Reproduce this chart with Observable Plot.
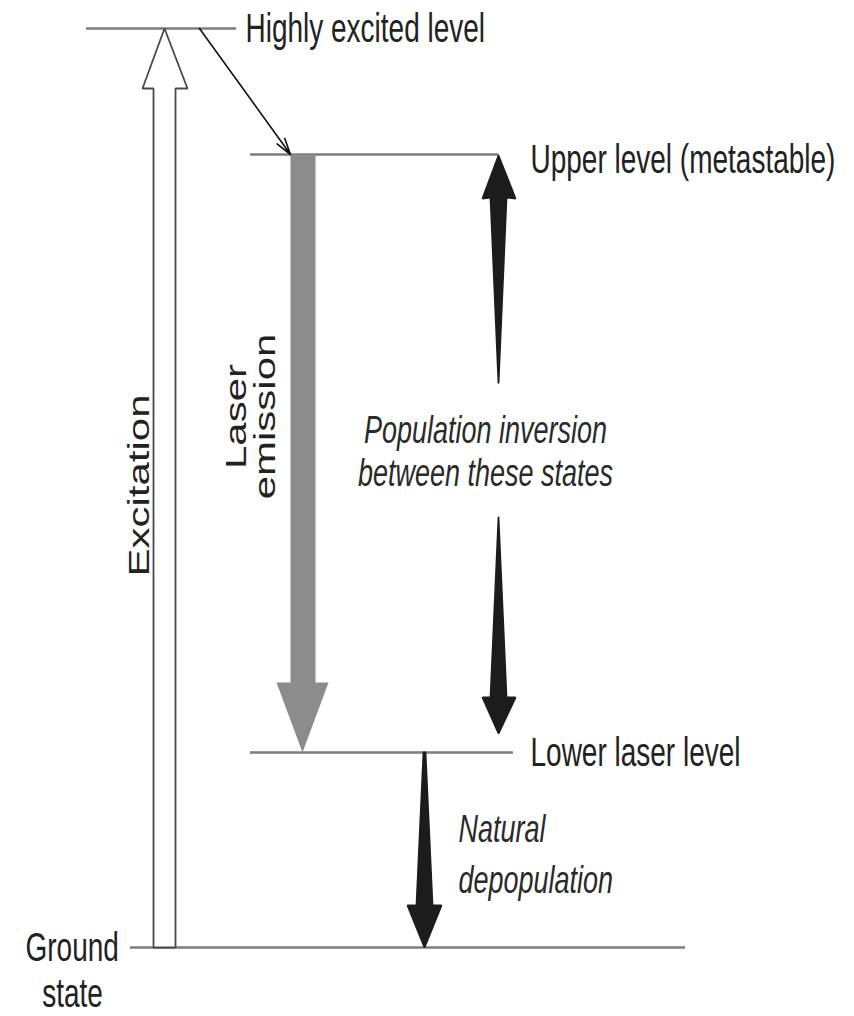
<!DOCTYPE html>
<html>
<head>
<meta charset="utf-8">
<script src="https://cdn.jsdelivr.net/npm/d3@7"></script>
<script src="https://cdn.jsdelivr.net/npm/@observablehq/plot@0.6"></script>
<style>
  html, body { margin: 0; padding: 0; background: #fff; }
</style>
</head>
<body>
<div id="chart"></div>
<script>
// ---- Data: energy levels (energy in arbitrary units above the ground state) ----
const levelNames = ["Ground state", "Lower laser level", "Upper level (metastable)", "Highly excited level"];
const levelEnergies = [0, 195, 793, 919];

// ---- Transitions between levels ----
const transitionNames = ["Excitation", "Relaxation", "Laser emission", "Population inversion", "Natural depopulation"];
const transitionFrom = ["Ground state", "Highly excited level", "Upper level (metastable)", "Upper level (metastable)", "Lower laser level"];
const transitionTo = ["Highly excited level", "Upper level (metastable)", "Lower laser level", "Lower laser level", "Ground state"];

// ---- Label texts ----
const annotationTexts = ["Population inversion", "between these states", "Natural", "depopulation", "Laser", "emission", "Excitation"];

// ---- Layout (code, not data) ----
const E = Object.fromEntries(levelNames.map((n, i) => [n, levelEnergies[i]]));
const levelSpan = {
  "Ground state": [130, 685],
  "Lower laser level": [250, 513],
  "Upper level (metastable)": [250, 498],
  "Highly excited level": [86, 236]
};
const levels = levelNames.map((n, i) => ({name: n, energy: levelEnergies[i], x1: levelSpan[n][0], x2: levelSpan[n][1]}));

const eG = E["Ground state"], eL = E["Lower laser level"], eU = E["Upper level (metastable)"], eH = E["Highly excited level"];

// polygons built from level energies
const shapes = [];
function poly(id, pts) { pts.forEach(([x, y]) => shapes.push({id, x, y})); shapes.push({id, x: pts[0][0], y: pts[0][1]}); }

// Excitation: hollow arrow ground -> highly excited
poly("Excitation", [[153, eG], [153, eH - 60], [142, eH - 60], [164, eH], [187, eH - 60], [175, eH - 60], [175, eG]]);
// Laser emission: grey arrow upper -> lower
poly("Laser emission", [[290, eU], [290, eL + 70], [276, eL + 70], [302, eL], [328, eL + 70], [315, eL + 70], [315, eU]]);
// Population inversion: two tapered arrows
poly("Inversion up", [[498, eU - 1], [515, eU - 44], [506, eU - 43], [498, eU - 229], [490, eU - 43], [482, eU - 44]]);
poly("Inversion down", [[498, eL + 235], [506, eL + 55], [515, eL + 55], [498, eL + 19], [482, eL + 55], [490, eL + 55]]);
// Natural depopulation
poly("Depopulation", [[423, eL], [425, eL], [432, eG + 42], [441, eG + 42], [424, eG], [407, eG + 42], [416, eG + 42]]);

const shapeStyle = {
  "Excitation": {fill: "#ffffff", stroke: "#4a4a4a"},
  "Laser emission": {fill: "#8c8c8c", stroke: "none"},
  "Inversion up": {fill: "#1c1c1c", stroke: "#1c1c1c"},
  "Inversion down": {fill: "#1c1c1c", stroke: "#1c1c1c"},
  "Depopulation": {fill: "#1c1c1c", stroke: "#1c1c1c"}
};

const startLabels = [
  {text: levelNames[3], x: 245, y: eH},
  {text: levelNames[2], x: 530, y: eU - 5},
  {text: levelNames[1], x: 530, y: eL},
  {text: "Ground", x: 25, y: eG}
];
const middleLabels = [
  {text: "state", x: 72, y: eG - 46}
];
const italicMiddle = [
  {text: annotationTexts[0], x: 485, y: eL + 322},
  {text: annotationTexts[1], x: 485, y: eL + 279}
];
const italicStart = [
  {text: annotationTexts[2], x: 458, y: eG + 118},
  {text: annotationTexts[3], x: 458, y: eG + 67}
];
const rotatedLabels = [
  {text: annotationTexts[4], x: 236, y: eL + 336},
  {text: annotationTexts[5], x: 265, y: eL + 336},
  {text: annotationTexts[6], x: 139, y: eG + 462}
];

const font = "Liberation Sans, Arial, Helvetica, sans-serif";
const common = {x: "x", y: "y", text: "text", lineAnchor: "middle"};

const chart = Plot.plot({
  width: 854,
  height: 1016,
  margin: 0,
  x: {domain: [0, 854], range: [0, 854], axis: null},
  y: {domain: [-69, 947], range: [1016, 0], axis: null},
  style: {background: "#ffffff", fontFamily: font},
  marks: [
    Plot.ruleY(levels, {y: "energy", x1: "x1", x2: "x2", stroke: "#7d7d7d", strokeWidth: 2.6}),
    ...Object.keys(shapeStyle).map(id =>
      Plot.line(shapes.filter(d => d.id === id), {x: "x", y: "y", curve: "linear", fill: shapeStyle[id].fill, stroke: shapeStyle[id].stroke, strokeWidth: 1.8, strokeLinejoin: "miter"})
    ),
    Plot.arrow([{x1: 199, y1: eH, x2: 290, y2: eU}], {x1: "x1", y1: "y1", x2: "x2", y2: "y2", stroke: "#111", strokeWidth: 1.6, headLength: 16, headAngle: 32}),
    Plot.text(startLabels, {...common, textAnchor: "start", fontSize: 28, fill: "#222"}),
    Plot.text(middleLabels, {...common, textAnchor: "middle", fontSize: 28, fill: "#222"}),
    Plot.text(italicMiddle, {...common, textAnchor: "middle", fontSize: 27, fontStyle: "italic", fill: "#2a2a2a"}),
    Plot.text(italicStart, {...common, textAnchor: "start", fontSize: 27, fontStyle: "italic", fill: "#2a2a2a"}),
    Plot.text(rotatedLabels, {...common, textAnchor: "middle", rotate: -90, fontSize: 30, fill: "#222"})
  ]
});

// The source figure's lettering is tall and narrow: stretch glyphs along the vertical axis.
chart.querySelectorAll("text").forEach(t => {
  const tr = t.getAttribute("transform") || "";
  t.setAttribute("transform", tr + (tr.includes("rotate") ? " scale(1.4,1)" : " scale(1,1.45)"));
});

document.getElementById("chart").appendChild(chart);
</script>
</body>
</html>
